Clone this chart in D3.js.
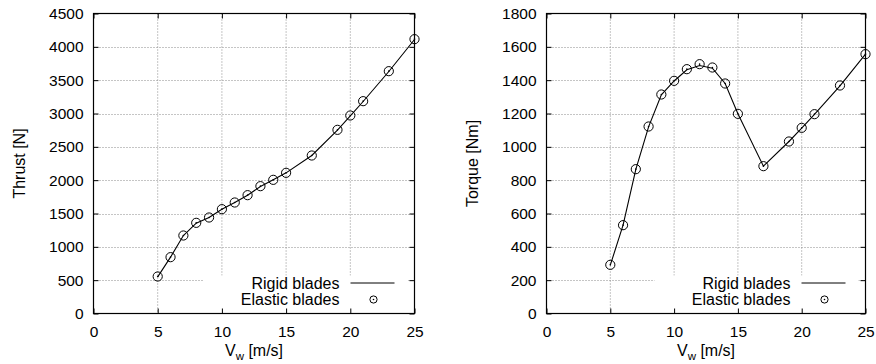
<!DOCTYPE html>
<html>
<head>
<meta charset="utf-8">
<script src="https://cdn.jsdelivr.net/npm/d3@7"></script>
<style>
body { margin: 0; background: #fff; }
svg text { font-family: "Liberation Sans", Arial, Helvetica, sans-serif; fill: #000; }
</style>
</head>
<body>
<script>
// wind speed samples (m/s)
var windSpeed = [5, 6, 7, 8, 9, 10, 11, 12, 13, 14, 15, 17, 19, 20, 21, 23, 25];

var thrustRigid   = [550, 845, 1170, 1355, 1440, 1565, 1665, 1775, 1905, 2005, 2110, 2370, 2750, 2965, 3180, 3630, 4110];
var thrustElastic = [555, 845, 1170, 1360, 1440, 1565, 1665, 1775, 1910, 2005, 2110, 2370, 2755, 2970, 3185, 3635, 4115];

var torqueRigid   = [290, 530, 865, 1120, 1312, 1395, 1462, 1488, 1472, 1380, 1198, 884, 1032, 1112, 1195, 1366, 1556];
var torqueElastic = [292, 530, 866, 1122, 1314, 1396, 1466, 1496, 1476, 1380, 1198, 884, 1032, 1114, 1196, 1368, 1556];

var xTicks = [0, 5, 10, 15, 20, 25];
var thrustTicks = [0, 500, 1000, 1500, 2000, 2500, 3000, 3500, 4000, 4500];
var torqueTicks = [0, 200, 400, 600, 800, 1000, 1200, 1400, 1600, 1800];

var legendLabels = ["Rigid blades", "Elastic blades"];

(function(){

var svg = d3.select("body").append("svg")
	.attr("width", 876)
	.attr("height", 364);

function zip(xs, ys){
	return xs.map(function(x, i){ return [x, ys[i]]; });
}

function drawPanel(cfg){
	var g = svg.append("g");
	var x = d3.scaleLinear().domain([0, 25]).range([cfg.left, cfg.right]);
	var y = d3.scaleLinear().domain([0, cfg.yMax]).range([cfg.bottom, cfg.top]);

	// grid
	xTicks.slice(1, -1).forEach(function(t){
		g.append("line")
			.attr("x1", x(t)).attr("x2", x(t))
			.attr("y1", cfg.top).attr("y2", cfg.bottom)
			.attr("stroke", "#8a8a8a").attr("stroke-width", 1)
			.attr("stroke-dasharray", "1,2");
	});
	cfg.yTicks.slice(1, -1).forEach(function(t){
		g.append("line")
			.attr("x1", cfg.left).attr("x2", cfg.right)
			.attr("y1", Math.round(y(t)) + 0.5).attr("y2", Math.round(y(t)) + 0.5)
			.attr("stroke", "#8a8a8a").attr("stroke-width", 1)
			.attr("stroke-dasharray", "1,2");
	});

	// legend background
	g.append("rect")
		.attr("x", cfg.right - 211)
		.attr("y", cfg.bottom - 38)
		.attr("width", 204)
		.attr("height", 38)
		.attr("fill", "#fff");

	// rigid blades line
	var line = d3.line()
		.x(function(d){ return x(d[0]); })
		.y(function(d){ return y(d[1]); });

	g.append("path")
		.datum(zip(windSpeed, cfg.rigid))
		.attr("d", line)
		.attr("fill", "none")
		.attr("stroke", "#000")
		.attr("stroke-width", 1.1);

	// elastic blades points
	var pts = g.selectAll(".pt")
		.data(zip(windSpeed, cfg.elastic))
		.enter().append("g")
		.attr("transform", function(d){ return "translate(" + x(d[0]) + "," + y(d[1]) + ")"; });
	pts.append("circle")
		.attr("r", 4.6)
		.attr("fill", "none")
		.attr("stroke", "#000")
		.attr("stroke-width", 1);
	pts.append("circle")
		.attr("r", 0.8)
		.attr("fill", "#000");

	// legend
	var lx = cfg.right - 75;
	g.append("text")
		.attr("x", lx).attr("y", cfg.bottom - 25)
		.attr("text-anchor", "end")
		.attr("font-size", 16)
		.text(legendLabels[0]);
	g.append("text")
		.attr("x", lx).attr("y", cfg.bottom - 9)
		.attr("text-anchor", "end")
		.attr("font-size", 16)
		.text(legendLabels[1]);
	g.append("line")
		.attr("x1", cfg.right - 64).attr("x2", cfg.right - 20)
		.attr("y1", cfg.bottom - 30.5).attr("y2", cfg.bottom - 30.5)
		.attr("stroke", "#000").attr("stroke-width", 1);
	g.append("circle")
		.attr("cx", cfg.right - 41).attr("cy", cfg.bottom - 14)
		.attr("r", 3.6)
		.attr("fill", "none").attr("stroke", "#000").attr("stroke-width", 1);
	g.append("circle")
		.attr("cx", cfg.right - 41).attr("cy", cfg.bottom - 14)
		.attr("r", 0.8)
		.attr("fill", "#000");

	// axes, ticks drawn inward like gnuplot
	var ax = [
		{ a: d3.axisBottom(x).tickValues(xTicks).tickPadding(12), t: "translate(0," + cfg.bottom + ")", lab: true },
		{ a: d3.axisTop(x).tickValues(xTicks), t: "translate(0," + cfg.top + ")", lab: false },
		{ a: d3.axisLeft(y).tickValues(cfg.yTicks).tickPadding(10), t: "translate(" + cfg.left + ",0)", lab: true },
		{ a: d3.axisRight(y).tickValues(cfg.yTicks), t: "translate(" + cfg.right + ",0)", lab: false }
	];
	ax.forEach(function(o){
		var s = g.append("g")
			.attr("transform", o.t)
			.call(o.a.tickSizeInner(-5).tickSizeOuter(0).tickFormat(d3.format("d")));
		s.select(".domain").remove();
		s.selectAll("line").attr("stroke", "#000");
		s.selectAll("text")
			.attr("font-size", 15.5)
			.attr("font-family", "Liberation Sans, Arial, sans-serif")
			.attr("fill", "#000");
		if(!o.lab){ s.selectAll("text").remove(); }
	});

	g.append("rect")
		.attr("x", cfg.left).attr("y", cfg.top)
		.attr("width", cfg.right - cfg.left)
		.attr("height", cfg.bottom - cfg.top)
		.attr("fill", "none")
		.attr("stroke", "#000")
		.attr("stroke-width", 1.2);

	// axis titles
	var xl = g.append("text")
		.attr("x", (cfg.left + cfg.right) / 2)
		.attr("y", 356)
		.attr("text-anchor", "middle")
		.attr("font-size", 16);
	xl.append("tspan").text("V");
	xl.append("tspan").attr("font-size", 11.5).attr("dy", 4).text("w");
	xl.append("tspan").attr("dy", -4).text(" [m/s]");

	g.append("text")
		.attr("transform", "translate(" + (cfg.left - 69) + "," + ((cfg.top + cfg.bottom) / 2) + ") rotate(-90)")
		.attr("text-anchor", "middle")
		.attr("font-size", 16)
		.text(cfg.yLabel);
}

drawPanel({
	left: 93.5, right: 414.5, top: 13.5, bottom: 313.5,
	yMax: 4500, yTicks: thrustTicks, yLabel: "Thrust [N]",
	rigid: thrustRigid, elastic: thrustElastic
});

drawPanel({
	left: 546.5, right: 865.5, top: 13.5, bottom: 313.5,
	yMax: 1800, yTicks: torqueTicks, yLabel: "Torque [Nm]",
	rigid: torqueRigid, elastic: torqueElastic
});

})();
</script>
</body>
</html>
